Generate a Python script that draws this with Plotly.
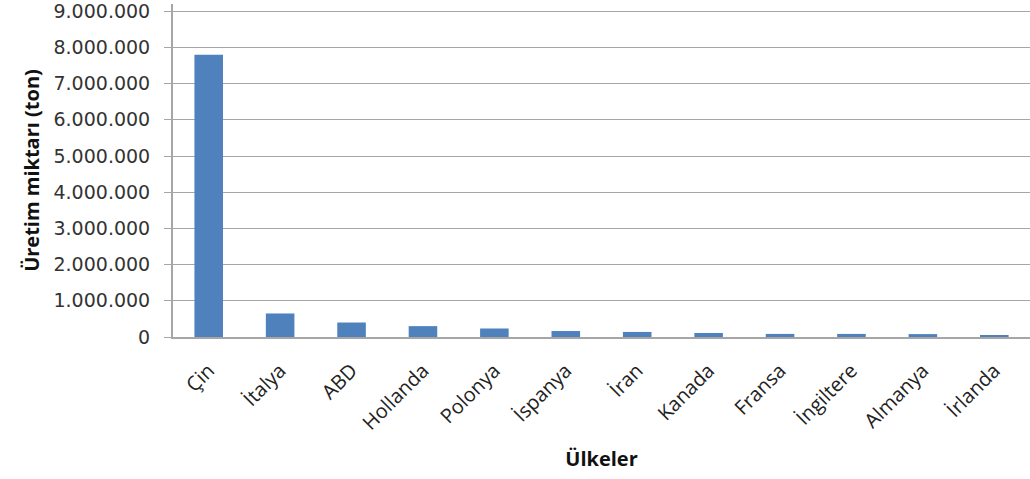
import plotly.graph_objects as go

ulkeler = ["Çin", "İtalya", "ABD", "Hollanda", "Polonya", "İspanya", "İran",
           "Kanada", "Fransa", "İngiltere", "Almanya", "İrlanda"]
uretim = [7800000, 650000, 400000, 300000, 235000, 165000, 140000,
          110000, 85000, 85000, 80000, 50000]
y_ticks = [0, 1000000, 2000000, 3000000, 4000000, 5000000, 6000000, 7000000, 8000000, 9000000]

fig = go.Figure(go.Bar(
    x=ulkeler, y=uretim,
    marker=dict(color="#4F81BD", line=dict(width=0)),
    width=0.4,
))

font_family = "Open Sans"
fig.update_layout(
    width=1030, height=479,
    margin=dict(l=173, r=0, t=4, b=142),
    paper_bgcolor="white", plot_bgcolor="white",
    separators=",.",
    showlegend=False,
    font=dict(family=font_family, color="#222222"),
)
fig.update_xaxes(
    tickangle=-45,
    tickfont=dict(size=20, family=font_family, color="#222222"),
    showline=True, linecolor="#a6a6a6", linewidth=2,
    ticks="outside", ticklen=12, tickcolor="rgba(0,0,0,0)",
    showgrid=False, automargin=False,
    title=dict(text="<b>Ülkeler</b>", font=dict(size=20, family=font_family, color="#111111"), standoff=18),
)
fig.update_yaxes(
    range=[0, 9200000],
    tickvals=y_ticks,
    tickformat=",d",
    tickfont=dict(size=19, family="DejaVu Sans", color="#333333"),
    ticklabelstandoff=10,
    ticklabeloverflow="allow",
    automargin=False,
    showline=True, linecolor="#a6a6a6", linewidth=2,
    ticks="outside", ticklen=7, tickcolor="#a6a6a6", tickwidth=1,
    showgrid=True, gridcolor="#a6a6a6", gridwidth=1,
    zeroline=False,
    title=dict(text="<b>Üretim miktarı (ton)</b>", font=dict(size=20, family=font_family, color="#111111"), standoff=8),
)

fig.write_html("out.html")
